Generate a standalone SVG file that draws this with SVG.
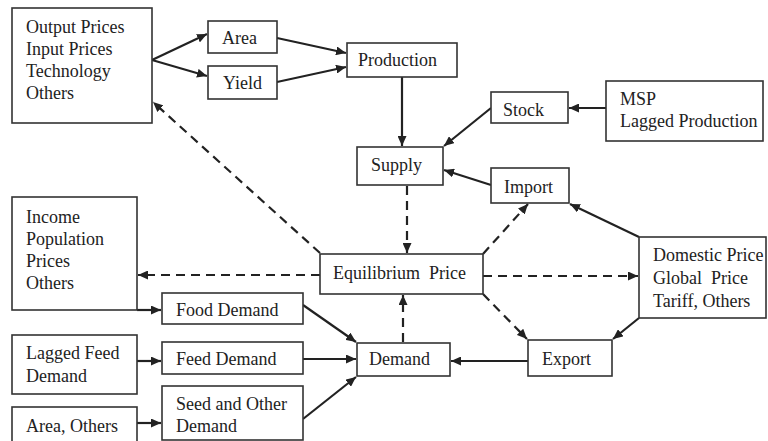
<svg xmlns="http://www.w3.org/2000/svg" width="768" height="441" viewBox="0 0 768 441">
<style>
.box{fill:#fff;stroke:#333;stroke-width:1.6}
.t{font-family:"Liberation Serif","Times New Roman",serif;font-size:18px;fill:#222}
.pre{white-space:pre}
.c{fill:none;stroke:#222;stroke-width:2.2}
.d{fill:none;stroke:#222;stroke-width:2.2;stroke-dasharray:9,6}
</style>
<defs>
<marker id="ah" markerUnits="userSpaceOnUse" markerWidth="11" markerHeight="9" refX="10" refY="4.5" orient="auto">
<path d="M0,0 L10,4.5 L0,9 Z" fill="#222"/>
</marker>
</defs>
<rect width="768" height="441" fill="#fff"/>
<g id="connectors">
<line class="c" x1="152" y1="60" x2="207" y2="34" marker-end="url(#ah)"/>
<line class="c" x1="152" y1="60" x2="207" y2="76" marker-end="url(#ah)"/>
<line class="c" x1="277" y1="38" x2="346" y2="53" marker-end="url(#ah)"/>
<line class="c" x1="277" y1="82" x2="346" y2="67" marker-end="url(#ah)"/>
<line class="c" x1="402" y1="77" x2="402" y2="146" marker-end="url(#ah)"/>
<line class="c" x1="491" y1="108" x2="444" y2="146" marker-end="url(#ah)"/>
<line class="c" x1="606" y1="108" x2="569" y2="108" marker-end="url(#ah)"/>
<line class="c" x1="491" y1="185" x2="444" y2="170" marker-end="url(#ah)"/>
<line class="c" x1="639" y1="237" x2="570" y2="204" marker-end="url(#ah)"/>
<line class="c" x1="639" y1="318" x2="613" y2="339" marker-end="url(#ah)"/>
<line class="c" x1="528" y1="361" x2="451" y2="361" marker-end="url(#ah)"/>
<line class="c" x1="303" y1="305" x2="356" y2="342" marker-end="url(#ah)"/>
<line class="c" x1="303" y1="359" x2="356" y2="359" marker-end="url(#ah)"/>
<line class="c" x1="303" y1="419" x2="356" y2="377" marker-end="url(#ah)"/>
<line class="c" x1="137" y1="310" x2="161" y2="310" marker-end="url(#ah)"/>
<line class="c" x1="137" y1="361" x2="161" y2="361" marker-end="url(#ah)"/>
<line class="c" x1="137" y1="423" x2="161" y2="423" marker-end="url(#ah)"/>
<line class="d" x1="407" y1="186" x2="407" y2="253" marker-end="url(#ah)"/>
<line class="d" x1="403" y1="342" x2="403" y2="295" marker-end="url(#ah)"/>
<line class="d" x1="483" y1="254" x2="528" y2="204" marker-end="url(#ah)"/>
<line class="d" x1="483" y1="294" x2="527" y2="339" marker-end="url(#ah)"/>
<line class="d" x1="483" y1="276" x2="638" y2="276" marker-end="url(#ah)"/>
<line class="d" x1="320" y1="275" x2="138" y2="275" marker-end="url(#ah)"/>
<line class="d" x1="320" y1="253" x2="153" y2="102" marker-end="url(#ah)"/>
</g>
<g id="n-inputs"><rect class="box" x="12" y="8" width="140" height="115"/>
<text class="t" x="26" y="33">Output Prices</text><text class="t" x="26" y="55">Input Prices</text><text class="t" x="26" y="77">Technology</text><text class="t" x="26" y="99">Others</text></g>
<g id="n-area"><rect class="box" x="208" y="21" width="69" height="32"/><text class="t" x="222" y="44">Area</text></g>
<g id="n-yield"><rect class="box" x="208" y="66" width="69" height="33"/><text class="t" x="223" y="89">Yield</text></g>
<g id="n-production"><rect class="box" x="347" y="43" width="110" height="34"/><text class="t" x="358" y="66">Production</text></g>
<g id="n-supply"><rect class="box" x="357" y="147" width="86" height="38"/><text class="t" x="371" y="171">Supply</text></g>
<g id="n-stock"><rect class="box" x="491" y="92" width="77" height="31"/><text class="t" x="503" y="116">Stock</text></g>
<g id="n-msp"><rect class="box" x="606" y="81" width="157" height="60"/><text class="t" x="620" y="105">MSP</text><text class="t" x="620" y="127">Lagged Production</text></g>
<g id="n-import"><rect class="box" x="491" y="168" width="78" height="35"/><text class="t" x="504" y="193">Import</text></g>
<g id="n-income"><rect class="box" x="12" y="197" width="125" height="113"/>
<text class="t" x="26" y="223">Income</text><text class="t" x="26" y="245">Population</text><text class="t" x="26" y="267">Prices</text><text class="t" x="26" y="289">Others</text></g>
<g id="n-equilibrium"><rect class="box" x="320" y="254" width="163" height="40"/><text class="t pre" x="333" y="279">Equilibrium  Price</text></g>
<g id="n-domestic"><rect class="box" x="639" y="237" width="127" height="81"/>
<text class="t" x="653" y="261">Domestic Price</text><text class="t pre" x="653" y="284">Global  Price</text><text class="t" x="653" y="307">Tariff, Others</text></g>
<g id="n-food"><rect class="box" x="162" y="293" width="141" height="31"/><text class="t" x="176" y="316">Food Demand</text></g>
<g id="n-feed"><rect class="box" x="162" y="342" width="141" height="32"/><text class="t" x="176" y="365">Feed Demand</text></g>
<g id="n-seed"><rect class="box" x="162" y="386" width="141" height="54"/><text class="t" x="176" y="410">Seed and Other</text><text class="t" x="176" y="432">Demand</text></g>
<g id="n-lagged"><rect class="box" x="12" y="335" width="125" height="59"/><text class="t" x="26" y="359">Lagged Feed</text><text class="t" x="26" y="382">Demand</text></g>
<g id="n-areaothers"><rect class="box" x="12" y="407" width="125" height="40"/><text class="t" x="26" y="432">Area, Others</text></g>
<g id="n-demand"><rect class="box" x="357" y="343" width="93" height="33"/><text class="t" x="369" y="365">Demand</text></g>
<g id="n-export"><rect class="box" x="528" y="340" width="84" height="36"/><text class="t" x="542" y="365">Export</text></g>
</svg>
